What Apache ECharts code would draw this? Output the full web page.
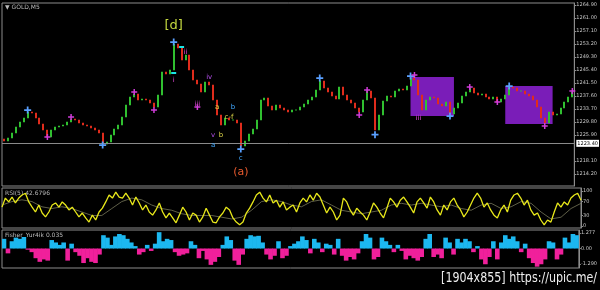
<!DOCTYPE html>
<html><head><meta charset="utf-8">
<script src="https://cdn.jsdelivr.net/npm/echarts@6/dist/echarts.min.js"></script>
<style>html,body{margin:0;padding:0;background:#000}#c{width:600px;height:290px}</style>
</head><body><div id="c"></div>
<script>
// ---- price panel ----
const closes = [
1224.1,1225.0,1226.5,1228.3,1229.8,1231.0,1232.8,1232.5,1231.0,1229.2,
1227.4,1225.3,1227.4,1228.3,1228.6,1228.9,1229.8,1230.7,1230.4,1229.5,
1228.9,1228.6,1228.0,1227.4,1226.5,1223.2,1223.8,1225.9,1227.7,1228.9,
1231.3,1234.9,1237.3,1238.2,1236.4,1236.7,1236.4,1235.5,1234.3,1237.9,
1244.8,1244.2,1245.4,1253.2,1252.0,1248.4,1249.9,1245.4,1242.4,1241.2,
1238.8,1241.8,1240.9,1236.4,1231.9,1228.9,1231.0,1230.4,1230.4,1229.5,
1222.6,1224.1,1226.2,1227.7,1230.4,1236.4,1237.0,1234.6,1233.4,1234.9,
1234.0,1233.4,1232.8,1233.4,1233.4,1234.3,1235.2,1236.4,1237.3,1239.4,
1242.1,1240.0,1238.8,1237.6,1236.7,1240.3,1237.9,1236.4,1235.5,1234.0,
1232.8,1236.4,1239.1,1237.0,1227.4,1231.9,1236.1,1237.6,1237.3,1239.1,
1239.7,1239.4,1240.6,1243.0,1242.4,1237.9,1233.4,1236.4,1237.3,1237.0,
1235.2,1234.6,1235.8,1232.2,1234.0,1235.5,1237.6,1238.8,1240.0,1238.5,
1237.9,1238.2,1237.3,1236.7,1237.3,1235.8,1236.7,1237.9,1240.3,1240.0,
1239.1,1239.1,1238.2,1237.6,1236.4,1234.3,1231.0,1229.5,1232.8,1231.9,
1232.2,1234.0,1235.8,1237.3,1238.8];
const priceTicks = [1264.90,1261.00,1257.10,1253.20,1249.30,1245.40,1241.50,1237.60,1233.70,1229.80,1225.90,1218.10,1214.20];
const currentPrice = 1223.4;
const blueMarkers = [[6,1233.4],[25,1222.9],[43,1253.8],[60,1221.7],[80,1243.0],[94,1226.0],[103,1243.6],[113,1231.6],[128,1240.6]];
const pinkMarkers = [[11,1225.3],[17,1231.3],[33,1238.8],[38,1233.4],[49,1234.3],[90,1231.9],[92,1239.4],[104,1243.9],[118,1240.3],[125,1235.8],[137,1228.6],[144,1239.1]];
const cyanMarks = [[45,1252.3],[43,1244.5]];
const waveLabels = [
  [43,1258.6,'[d]','major'],
  [46,1250.8,'ii','minorPink'],
  [43,1242.4,'i','minorPink'],
  [52,1243.3,'iv','minorPurple'],
  [49,1235.2,'iii','minorPink'],
  [54,1234.3,'a','minuteYellow'],
  [58,1234.3,'b','minuteBlue'],
  [57,1231.3,'c-f','minuteYellow'],
  [53,1225.9,'v','minorPurple'],
  [55,1225.9,'b','minuteYellow'],
  [53,1222.9,'a','minuteBlue'],
  [60,1219.0,'c','minuteBlue'],
  [60,1214.9,'(a)','intermediate'],
  [105,1230.8,'iii','minorPink']
];
const boxes = [[103,1243.3,114,1231.6],[127,1240.6,139,1229.2]];

// ---- RSI panel ----
const rsiValues = [
54,80,69,83,66,80,89,94,69,54,
40,60,37,26,40,60,66,54,69,60,
46,54,40,26,37,23,11,31,17,40,
51,69,89,80,97,83,80,94,80,60,
83,66,46,60,40,31,46,66,40,23,
37,23,9,31,54,40,17,37,31,11,
26,51,31,11,9,26,37,54,46,23,
11,3,11,37,51,69,89,97,80,69,
89,66,74,54,69,46,54,60,40,
66,80,69,89,74,94,83,60,37,54,
40,17,31,80,69,46,31,51,40,
31,17,40,66,54,37,23,51,80,
69,54,74,83,69,54,37,69,80,
66,51,83,69,46,31,60,46,69,
80,60,46,26,40,60,80,94,80,
54,66,46,31,23,46,60,40,74,
89,94,80,60,74,46,31,37,17,3,17,11,40,66,54,69,60,80,89,94,74];
const rsiSignal = [
60,70,75,70,55,50,55,50,40,30,30,
50,70,80,75,60,50,45,35,30,30,
30,25,20,25,45,70,75,70,60,55,
70,75,60,45,40,35,40,45,60,65,
60,65,60,55,60,50,45,60,65,50,
55,70,65,40,20,25,50,65];
const rsiTicks = [100,70,30,0];

// ---- Fisher panel ----
const fisherValues = [
0.8,-0.4,0.6,0.9,0.8,0.95,-0.1,-0.3,-0.8,-1.1,
-0.9,-1.0,0.7,0.5,0.3,0.5,-1.0,0.4,-0.3,-0.6,
-1.2,-0.8,-1.1,-1.2,-0.5,1.1,0.9,0.3,1.0,1.2,
1.1,0.8,0.5,0.2,-0.5,-0.3,0.3,-0.2,0.4,1.35,
0.6,0.8,0.7,-0.3,-0.6,-0.5,-0.4,0.6,0.3,-0.8,
-0.2,-0.9,-1.35,-1.1,-0.7,0.3,1.0,0.7,-1.0,-1.35,
-0.5,0.8,1.1,1.0,1.05,0.5,-0.5,-0.9,-0.6,0.6,
-0.8,-0.6,0.2,0.4,0.6,1.0,0.7,-0.4,0.8,0.5,
-0.3,0.4,0.3,-0.5,0.8,-0.6,-1.0,-0.7,-0.9,-0.4,
0.6,1.2,0.9,-0.9,-0.7,0.9,0.6,0.3,-0.3,0.3,
-0.2,-0.9,-0.6,-0.8,-1.0,-0.7,0.8,1.2,-0.7,-0.5,
-0.8,0.9,0.5,-0.5,0.8,0.5,0.8,0.6,-0.3,0.2,
-0.9,-1.3,-0.7,0.6,-0.9,0.5,1.1,0.8,1.0,0.6,
-0.3,0.4,-0.8,-1.2,-1.5,-1.3,-0.9,0.6,0.5,-0.9,
-0.5,0.9,0.5,1.2,1.1];
const fisherTicks = [1.277,0,-1.29];

// ---- styles ----
const labelStyles = {
  major:{color:'#c4d840',size:13},
  intermediate:{color:'#e85a2e',size:11},
  minorPink:{color:'#e048d8',size:7},
  minorPurple:{color:'#b850f0',size:7},
  minuteYellow:{color:'#e0d848',size:7},
  minuteBlue:{color:'#40a8ff',size:7}
};
const AX = '#8c8c8c', TXT = '#c8c8c8', FONT = 'DejaVu Sans';
const plus = 'path://M3,0H5V3H8V5H5V8H3V5H0V3H3Z';

const candleData = closes.map((c,i)=>{
  const o = i===0 ? c+0.6 : closes[i-1];
  return [o, c, Math.min(o,c), Math.max(o,c)];
});
const idx = a => a.map((_,i)=>i);

function rightAxis(grid, min, max, ticks, fmt){
  return {gridIndex:grid, type:'value', position:'right', min, max, scale:true,
    splitLine:{show:false},
    axisLine:{show:true, lineStyle:{color:AX}},
    axisTick:{show:true, length:2, customValues:ticks, lineStyle:{color:AX}},
    axisLabel:{customValues:ticks, formatter:fmt, fontSize:5, color:TXT, margin:2, fontFamily:FONT}};
}

const chart = echarts.init(document.getElementById('c'), null, {renderer:'canvas'});
chart.setOption({
  backgroundColor:'#000',
  animation:false,
  grid:[
    {left:2, right:19, top:3, height:183, show:true, borderColor:AX, borderWidth:1},
    {left:2, right:19, top:188, height:40, show:true, borderColor:AX, borderWidth:1},
    {left:2, right:19, top:230, height:38, show:true, borderColor:AX, borderWidth:1}
  ],
  xAxis:[
    {gridIndex:0, type:'category', data:idx(closes), show:false, boundaryGap:true},
    {gridIndex:1, type:'category', data:idx(rsiValues), show:false, boundaryGap:false},
    {gridIndex:1, type:'category', data:idx(rsiSignal), show:false, boundaryGap:false},
    {gridIndex:2, type:'category', data:idx(fisherValues), show:false, boundaryGap:true}
  ],
  yAxis:[
    rightAxis(0, 1210.6, 1265.5, priceTicks, v=>v.toFixed(2)),
    rightAxis(1, -6, 109, rsiTicks, v=>String(v)),
    rightAxis(2, -1.61, 1.53, fisherTicks, v=> v===0 ? '0.00' : v.toFixed(3))
  ],
  graphic:[
    {type:'text', left:5, top:4, style:{text:'▼ GOLD,M5', fill:'#bbbbbb', fontSize:6, fontFamily:FONT}},
    {type:'text', left:5, top:190, style:{text:'RSI(5) 42.6796', fill:'#bbbbbb', fontSize:6, fontFamily:FONT}},
    {type:'text', left:5, top:232, style:{text:'Fisher_Yur4ik 0.035', fill:'#bbbbbb', fontSize:6, fontFamily:FONT}},
    {type:'text', x:597, y:271, scaleX:0.88, style:{text:'[1904x855] https://upic.me/', fill:'#eeeeee', fontSize:14, fontFamily:'DejaVu Sans Condensed', align:'right', verticalAlign:'top'}}
  ],
  series:[
    {type:'candlestick', xAxisIndex:0, yAxisIndex:0, data:candleData, barWidth:1.5,
     itemStyle:{color:'#30c030', color0:'#e02c1c', borderColor:'#30c030', borderColor0:'#e02c1c', borderWidth:1},
     markArea:{silent:true, itemStyle:{color:'#7a1db8', opacity:1},
       data: boxes.map(b=>[{xAxis:b[0], yAxis:b[1]},{xAxis:b[2], yAxis:b[3]}])},
     markLine:{silent:true, symbol:'none', data:[{yAxis:currentPrice}],
       lineStyle:{color:'#8a8a8a', type:'solid', width:1},
       label:{position:'end', distance:2, formatter:currentPrice.toFixed(2), backgroundColor:'#ffffff', color:'#000', fontSize:5, padding:[1,1], fontFamily:FONT}}
    },
    {type:'scatter', xAxisIndex:0, yAxisIndex:0, data:blueMarkers, symbol:plus, symbolSize:7, itemStyle:{color:'#5aa0ff', opacity:1}, z:5},
    {type:'scatter', xAxisIndex:0, yAxisIndex:0, data:pinkMarkers, symbol:plus, symbolSize:6, itemStyle:{color:'#d03cd8', opacity:1}, z:5},
    {type:'scatter', xAxisIndex:0, yAxisIndex:0, data:cyanMarks, symbol:'rect', symbolSize:[5,2], itemStyle:{color:'#19e6e6', opacity:1}, z:5},
    {type:'scatter', xAxisIndex:0, yAxisIndex:0, symbolSize:1, itemStyle:{color:'#000', opacity:1}, z:6,
     data: waveLabels.map(w=>({value:[w[0],w[1]],
       label:{show:true, position:'inside', formatter:w[2], color:labelStyles[w[3]].color, fontSize:labelStyles[w[3]].size, fontFamily:FONT, opacity:1}}))},
    {type:'line', xAxisIndex:2, yAxisIndex:1, data:rsiSignal, symbol:'none', lineStyle:{color:'#77775a', width:0.8}, z:2},
    {type:'line', xAxisIndex:1, yAxisIndex:1, data:rsiValues, symbol:'none', lineStyle:{color:'#e8e81a', width:1.3}, z:3},
    {type:'bar', xAxisIndex:3, yAxisIndex:2, data:fisherValues, barWidth:4.6,
     itemStyle:{color:p=> p.value>=0 ? '#1cb8f0' : '#f0209b'}}
  ]
});
</script></body></html>
